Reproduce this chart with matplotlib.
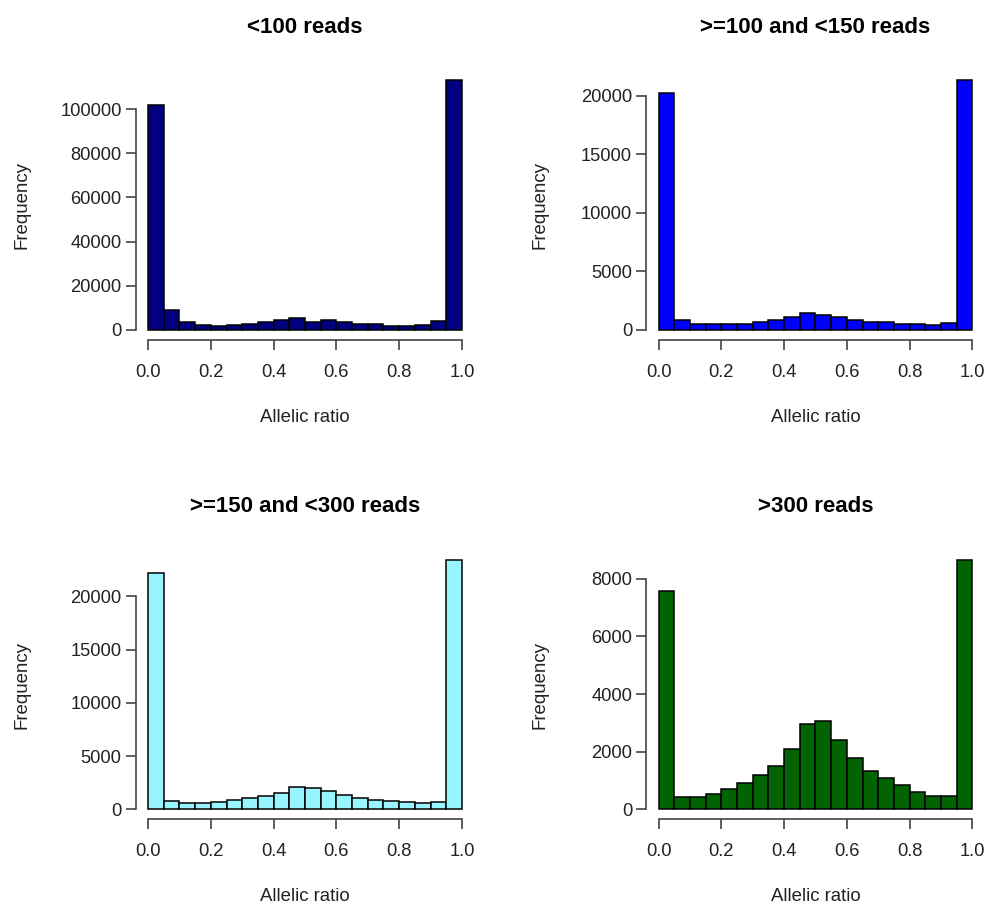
import numpy as np
import matplotlib
matplotlib.use("Agg")
import matplotlib.pyplot as plt

plt.rcParams['font.family'] = ['Liberation Sans', 'DejaVu Sans']

# bin edges shared by all four histograms (20 bins of 0.05)
bin_edges = np.linspace(0, 1, 21)

titles = ["<100 reads", ">=100 and <150 reads", ">=150 and <300 reads", ">300 reads"]
colors = ["#000080", "#0000FF", "#98F5FF", "#006400"]

counts_lt100 = [102000, 9000, 3500, 2300, 2000, 2300, 2800, 3500, 4600, 5500,
                3700, 4600, 3700, 2800, 2500, 2000, 2000, 2300, 4000, 113000]
counts_100_150 = [20200, 860, 490, 490, 490, 545, 690, 890, 1150, 1430,
                  1320, 1150, 890, 690, 690, 490, 490, 430, 600, 21300]
counts_150_300 = [22200, 780, 560, 560, 720, 880, 1100, 1250, 1530, 2130,
                  1970, 1690, 1340, 1100, 900, 780, 690, 560, 720, 23450]
counts_gt300 = [7570, 430, 430, 545, 700, 915, 1190, 1510, 2090, 2960,
                3070, 2410, 1770, 1320, 1070, 835, 615, 475, 475, 8660]

all_counts = [counts_lt100, counts_100_150, counts_150_300, counts_gt300]
yticks = [np.arange(0, 100001, 20000), np.arange(0, 20001, 5000),
          np.arange(0, 20001, 5000), np.arange(0, 8001, 2000)]
xticks = [0.0, 0.2, 0.4, 0.6, 0.8, 1.0]

fig = plt.figure(figsize=(9.9, 9.1), dpi=100)

# axes boxes in figure fractions: [left, bottom, width, height]
boxes = [[0.1369, 0.6264, 0.3424, 0.2962],
         [0.6525, 0.6264, 0.3424, 0.2962],
         [0.1369, 0.0997, 0.3424, 0.2962],
         [0.6525, 0.0997, 0.3424, 0.2962]]
ylab_x = [-0.311, -0.289, -0.311, -0.289]

axis_col = "#444444"
for i in range(4):
    ax = fig.add_axes(boxes[i])
    counts = np.array(all_counts[i])
    ax.hist(bin_edges[:-1], bins=bin_edges, weights=counts,
            color=colors[i], edgecolor="black", linewidth=1.1)
    ymax = counts.max()
    ax.set_xlim(-0.04, 1.04)
    ax.set_ylim(-0.04 * ymax, 1.04 * ymax)

    for s in ["top", "right"]:
        ax.spines[s].set_visible(False)
    ax.spines["left"].set_bounds(0, yticks[i][-1])
    ax.spines["bottom"].set_bounds(0, 1)
    for s in ["left", "bottom"]:
        ax.spines[s].set_color(axis_col)
        ax.spines[s].set_linewidth(1.2)

    ax.set_xticks(xticks)
    ax.set_xticklabels(["%.1f" % v for v in xticks])
    ax.set_yticks(yticks[i])
    ax.set_yticklabels([str(v) for v in yticks[i]])
    ax.tick_params(axis="both", direction="out", length=7, width=1.2,
                   color=axis_col, labelsize=13.2, labelcolor="#222222")
    ax.tick_params(axis="x", pad=10)
    ax.tick_params(axis="y", pad=3)

    ax.set_title(titles[i], fontsize=16, fontweight="bold", pad=27)
    ax.set_xlabel("Allelic ratio", fontsize=13.4, color="#222222")
    ax.xaxis.set_label_coords(0.5, -0.255)
    ax.set_ylabel("Frequency", fontsize=13.4, color="#222222")
    ax.yaxis.set_label_coords(ylab_x[i], 0.5)

fig.savefig("out.png", dpi=100, facecolor="white")
